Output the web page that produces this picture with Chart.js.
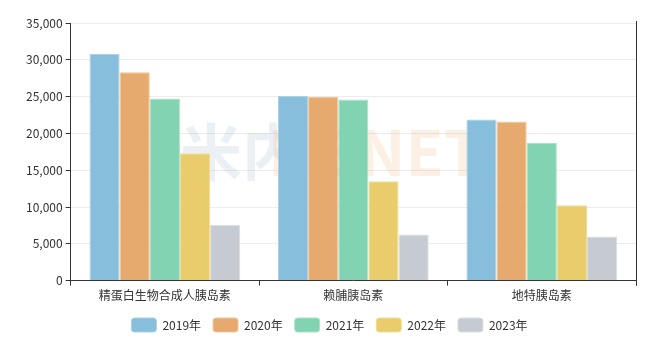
<!DOCTYPE html>
<html lang="zh">
<head>
    <meta charset="UTF-8">
    <title>胰岛素</title>
    <script src="https://cdn.jsdelivr.net/npm/chart.js"></script>
    <style>
        body { margin: 0; background: #fff; }
        .wrap { width: 661px; height: 349px; }
    </style>
</head>
<body>
    <div class="wrap"><canvas id="chart"></canvas></div>
    <script>
        const categories = ['精蛋白生物合成人胰岛素', '赖脯胰岛素', '地特胰岛素'];
        const years = ['2019年', '2020年', '2021年', '2022年', '2023年'];
        const v2019 = [30800, 25100, 21900];
        const v2020 = [28300, 24950, 21600];
        const v2021 = [24750, 24600, 18700];
        const v2022 = [17300, 13500, 10250];
        const v2023 = [7600, 6250, 6000];

        const fills = ['#86bedb', '#e6aa6e', '#82d3b1', '#e9cd6c', '#c6cad1'];
        const edges = ['#a9d1e6', '#f0c597', '#a6e1c8', '#f2dc95', '#dadde2'];
        const series = [v2019, v2020, v2021, v2022, v2023];

        Chart.defaults.font.family = '"Noto Sans CJK SC", "Noto Sans", sans-serif';
        Chart.defaults.font.size = 12;
        Chart.defaults.color = '#333';

        // watermark and right frame line
        const extras = {
            id: 'extras',
            beforeDatasetsDraw(chart) {
                const { ctx } = chart;
                ctx.save();
                ctx.font = 'bold 62px "Noto Sans CJK SC", sans-serif';
                ctx.textBaseline = 'middle';
                ctx.fillStyle = 'rgba(150, 180, 200, 0.2)';
                ctx.fillText('米内', 180, 152);
                ctx.fillStyle = 'rgba(240, 170, 110, 0.18)';
                ctx.fillText('MENET', 268, 152);
                ctx.restore();
            },
            afterDraw(chart) {
                const { ctx, chartArea: a } = chart;
                ctx.save();
                ctx.strokeStyle = '#333';
                ctx.lineWidth = 1;
                ctx.beginPath();
                ctx.moveTo(Math.round(a.right) + 0.5, a.top - 2);
                ctx.lineTo(Math.round(a.right) + 0.5, a.bottom + 5);
                ctx.stroke();
                ctx.restore();
            }
        };

        new Chart(document.getElementById('chart'), {
            type: 'bar',
            data: {
                labels: categories,
                datasets: years.map((y, i) => ({
                    label: y,
                    data: series[i],
                    backgroundColor: fills[i],
                    borderColor: edges[i],
                    borderWidth: 1,
                    categoryPercentage: 0.8,
                    barPercentage: 1
                }))
            },
            options: {
                responsive: true,
                maintainAspectRatio: false,
                animation: false,
                layout: { padding: { left: 23, right: 25, top: 23, bottom: 7 } },
                plugins: {
                    tooltip: { enabled: false },
                    legend: {
                        position: 'bottom',
                        labels: {
                            boxWidth: 25,
                            boxHeight: 14,
                            useBorderRadius: true,
                            borderRadius: 3,
                            padding: 12,
                            color: '#333',
                            font: { size: 12 }
                        }
                    }
                },
                scales: {
                    x: {
                        grid: {
                            offset: true,
                            drawOnChartArea: false,
                            tickLength: 5,
                            color: '#333'
                        },
                        border: { color: '#333' },
                        ticks: { color: '#333', padding: 3 }
                    },
                    y: {
                        min: 0,
                        max: 35000,
                        ticks: {
                            stepSize: 5000,
                            color: '#333',
                            padding: 3,
                            callback: v => v.toLocaleString('en-US')
                        },
                        grid: {
                            color: '#ececec',
                            tickColor: '#333',
                            tickLength: 5
                        },
                        border: { color: '#333' }
                    }
                }
            },
            plugins: [extras]
        });
    </script>
</body>
</html>
